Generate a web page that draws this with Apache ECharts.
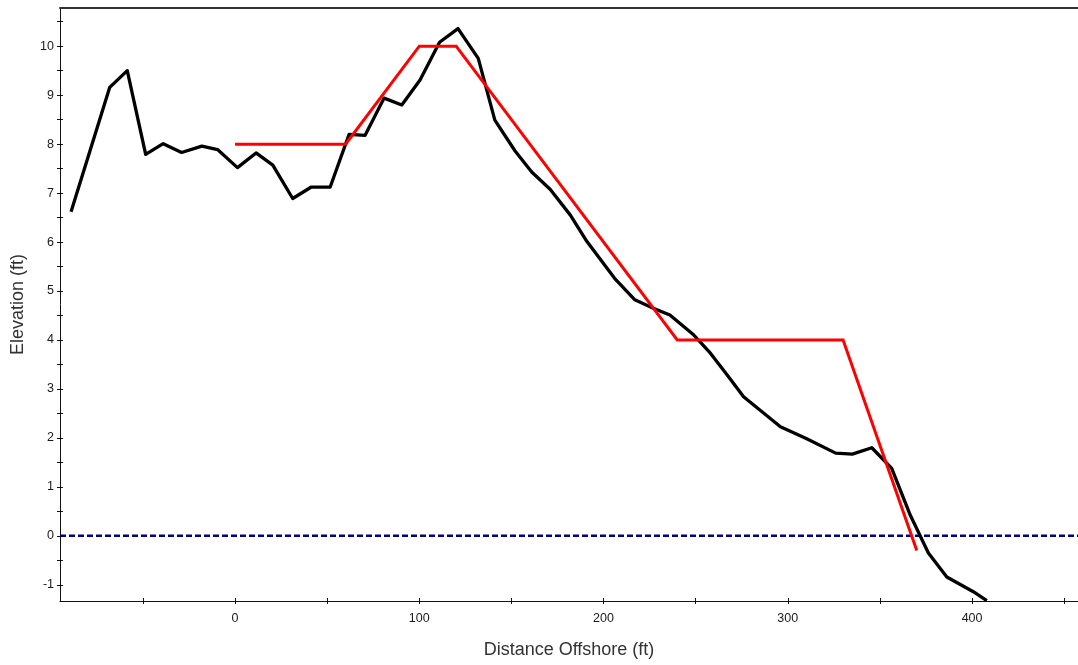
<!DOCTYPE html>
<html>
<head>
<meta charset="utf-8">
<script src="https://cdn.jsdelivr.net/npm/echarts@6/dist/echarts.min.js"></script>
<style>
  html, body { margin: 0; padding: 0; background: #ffffff; }
  #chart { width: 1078px; height: 665px; }
</style>
</head>
<body>
<div id="chart"></div>
<script>
// Measured beach profile (distance offshore in ft, elevation in ft)
const profileX = [-89, -68, -58.5, -48.5, -39, -29, -18, -9.5, 1.3, 11.4, 20.5, 31.3, 41.2, 51.6, 61.9, 70.6, 80.9, 90.5, 100.4, 111, 121, 132, 141, 152, 161, 171, 182, 191, 206, 217, 227, 236, 249, 258, 267, 276, 296, 310, 326, 335, 345.6, 356.4, 366.5, 376.3, 386.3, 400.7, 408];
const profileY = [6.62, 9.16, 9.50, 7.79, 8.01, 7.83, 7.96, 7.89, 7.52, 7.82, 7.57, 6.89, 7.12, 7.12, 8.20, 8.18, 8.94, 8.80, 9.31, 10.08, 10.36, 9.75, 8.49, 7.86, 7.43, 7.08, 6.55, 6.01, 5.26, 4.82, 4.65, 4.51, 4.10, 3.73, 3.29, 2.84, 2.23, 1.99, 1.69, 1.67, 1.80, 1.38, 0.42, -0.35, -0.84, -1.14, -1.32];

// Design template profile
const designX = [0, 60, 100, 120, 240, 330, 370];
const designY = [8, 8, 10, 10, 4, 4, -0.3];

// Reference water level
const waterLevel = 0;

// Axis ticks and labels
const xTicks = [-50, 0, 50, 100, 150, 200, 250, 300, 350, 400, 450];
const xLabels = [0, 100, 200, 300, 400];
const yTicks = [-1, -0.5, 0, 0.5, 1, 1.5, 2, 2.5, 3, 3.5, 4, 4.5, 5, 5.5, 6, 6.5, 7, 7.5, 8, 8.5, 9, 9.5, 10, 10.5];
const yLabels = [-1, 0, 1, 2, 3, 4, 5, 6, 7, 8, 9, 10];

const xRange = [-95, 457.5];
const yRange = [-1.33, 10.78];

const pairs = (xs, ys) => xs.map((x, i) => [x, ys[i]]);

const labelStyle = { fontFamily: 'Liberation Sans, Arial, sans-serif', fontSize: 12.5, color: '#1a1a1a' };
const nameStyle = { fontFamily: 'Liberation Sans, Arial, sans-serif', fontSize: 18, color: '#333' };

const chart = echarts.init(document.getElementById('chart'), null, { renderer: 'canvas' });

chart.setOption({
  animation: false,
  backgroundColor: '#ffffff',
  grid: { left: 60, right: 0, top: 8, bottom: 64, containLabel: false },
  xAxis: [
    {
      type: 'value', position: 'bottom', min: xRange[0], max: xRange[1],
      name: 'Distance Offshore (ft)', nameLocation: 'middle', nameGap: 40,
      nameTextStyle: nameStyle,
      splitLine: { show: false },
      axisLine: { show: true, onZero: false, lineStyle: { color: '#111', width: 1 } },
      axisTick: { show: true, inside: false, length: 3, customValues: xTicks, lineStyle: { color: '#111' } },
      axisLabel: { show: true, margin: 11, customValues: xLabels, ...labelStyle }
    },
    {
      type: 'value', position: 'bottom', min: xRange[0], max: xRange[1],
      splitLine: { show: false },
      axisLine: { show: false, onZero: false },
      axisTick: { show: true, inside: true, length: 3, customValues: xTicks, lineStyle: { color: '#111' } },
      axisLabel: { show: false }
    },
    {
      type: 'value', position: 'top', min: xRange[0], max: xRange[1],
      splitLine: { show: false },
      axisLine: { show: true, onZero: false, lineStyle: { color: '#333', width: 2 } },
      axisTick: { show: false },
      axisLabel: { show: false }
    }
  ],
  yAxis: [
    {
      type: 'value', position: 'left', min: yRange[0], max: yRange[1],
      name: 'Elevation (ft)', nameLocation: 'middle', nameGap: 33,
      nameTextStyle: nameStyle,
      splitLine: { show: false },
      axisLine: { show: true, onZero: false, lineStyle: { color: '#111', width: 1 } },
      axisTick: { show: true, inside: false, length: 3, customValues: yTicks, lineStyle: { color: '#111' } },
      axisLabel: { show: true, margin: 6, customValues: yLabels, ...labelStyle }
    },
    {
      type: 'value', position: 'left', min: yRange[0], max: yRange[1],
      splitLine: { show: false },
      axisLine: { show: false, onZero: false },
      axisTick: { show: true, inside: true, length: 3, customValues: yTicks, lineStyle: { color: '#111' } },
      axisLabel: { show: false }
    }
  ],
  series: [
    {
      name: 'Water level',
      type: 'line',
      data: pairs(xRange, [waterLevel, waterLevel]),
      symbol: 'none',
      lineStyle: { color: '#000080', width: 2.5, type: [6, 3] },
      z: 1
    },
    {
      name: 'Measured profile',
      type: 'line',
      data: pairs(profileX, profileY),
      symbol: 'none',
      lineStyle: { color: '#000000', width: 3.3, join: 'round' },
      z: 2
    },
    {
      name: 'Design profile',
      type: 'line',
      data: pairs(designX, designY),
      symbol: 'none',
      lineStyle: { color: '#ff0000', width: 3, join: 'miter' },
      z: 3
    }
  ]
});
</script>
</body>
</html>
